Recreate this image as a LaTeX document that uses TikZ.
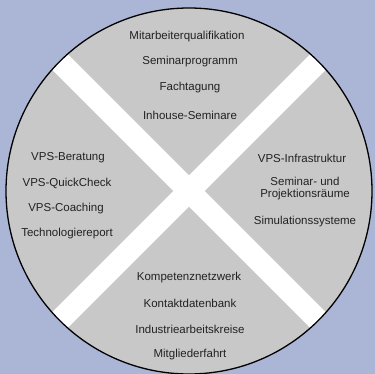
\documentclass[tikz,border=0pt]{standalone}
\usepackage{fontspec}
\setmainfont{Liberation Sans}
\usetikzlibrary{calc}
\definecolor{bgblue}{RGB}{171,182,214}
\definecolor{disk}{RGB}{200,200,200}
\definecolor{txt}{RGB}{34,34,34}
\begin{document}
\begin{tikzpicture}[x=1pt,y=-1pt,
  lbl/.style={font=\fontsize{11.5}{13}\selectfont, text=txt, inner sep=0pt, align=center},
  band/.style={white, line width=22pt}]
\fill[bgblue] (0,0) rectangle (375,374);
\useasboundingbox (0,0) rectangle (375,374);
\coordinate (c) at (189,191);
\fill[disk] (c) circle[radius=183];
\begin{scope}
  \clip (c) circle[radius=183];
  \draw[band] ($(c)+(-200,-200)$) -- ($(c)+(200,200)$);
  \draw[band] ($(c)+(200,-200)$) -- ($(c)+(-200,200)$);
\end{scope}
\draw[black, line width=1.3pt] (c) circle[radius=183];
% top
\node[lbl] (t1) at (187,37) {Mitarbeiterqualifikation};
\node[lbl] (t2) at (190,62) {Seminarprogramm};
\node[lbl] (t3) at (190,88) {Fachtagung};
\node[lbl] (t4) at (190,115) {Inhouse-Seminare};
% left
\node[lbl] (l1) at (68,158) {VPS-Beratung};
\node[lbl] (l2) at (67,183) {VPS-QuickCheck};
\node[lbl] (l3) at (66,209) {VPS-Coaching};
\node[lbl] (l4) at (67,234) {Technologiereport};
% right
\node[lbl] (r1) at (302,158) {VPS-Infrastruktur};
\node[lbl] (r2) at (305,189) {Seminar- und\\[-1pt]Projektionsräume};
\node[lbl] (r3) at (305,222) {Simulationssysteme};
% bottom
\node[lbl] (b1) at (189,278) {Kompetenznetzwerk};
\node[lbl] (b2) at (190,303) {Kontaktdatenbank};
\node[lbl] (b3) at (190,329) {Industriearbeitskreise};
\node[lbl] (b4) at (190,355) {Mitgliederfahrt};
\end{tikzpicture}
\end{document}
